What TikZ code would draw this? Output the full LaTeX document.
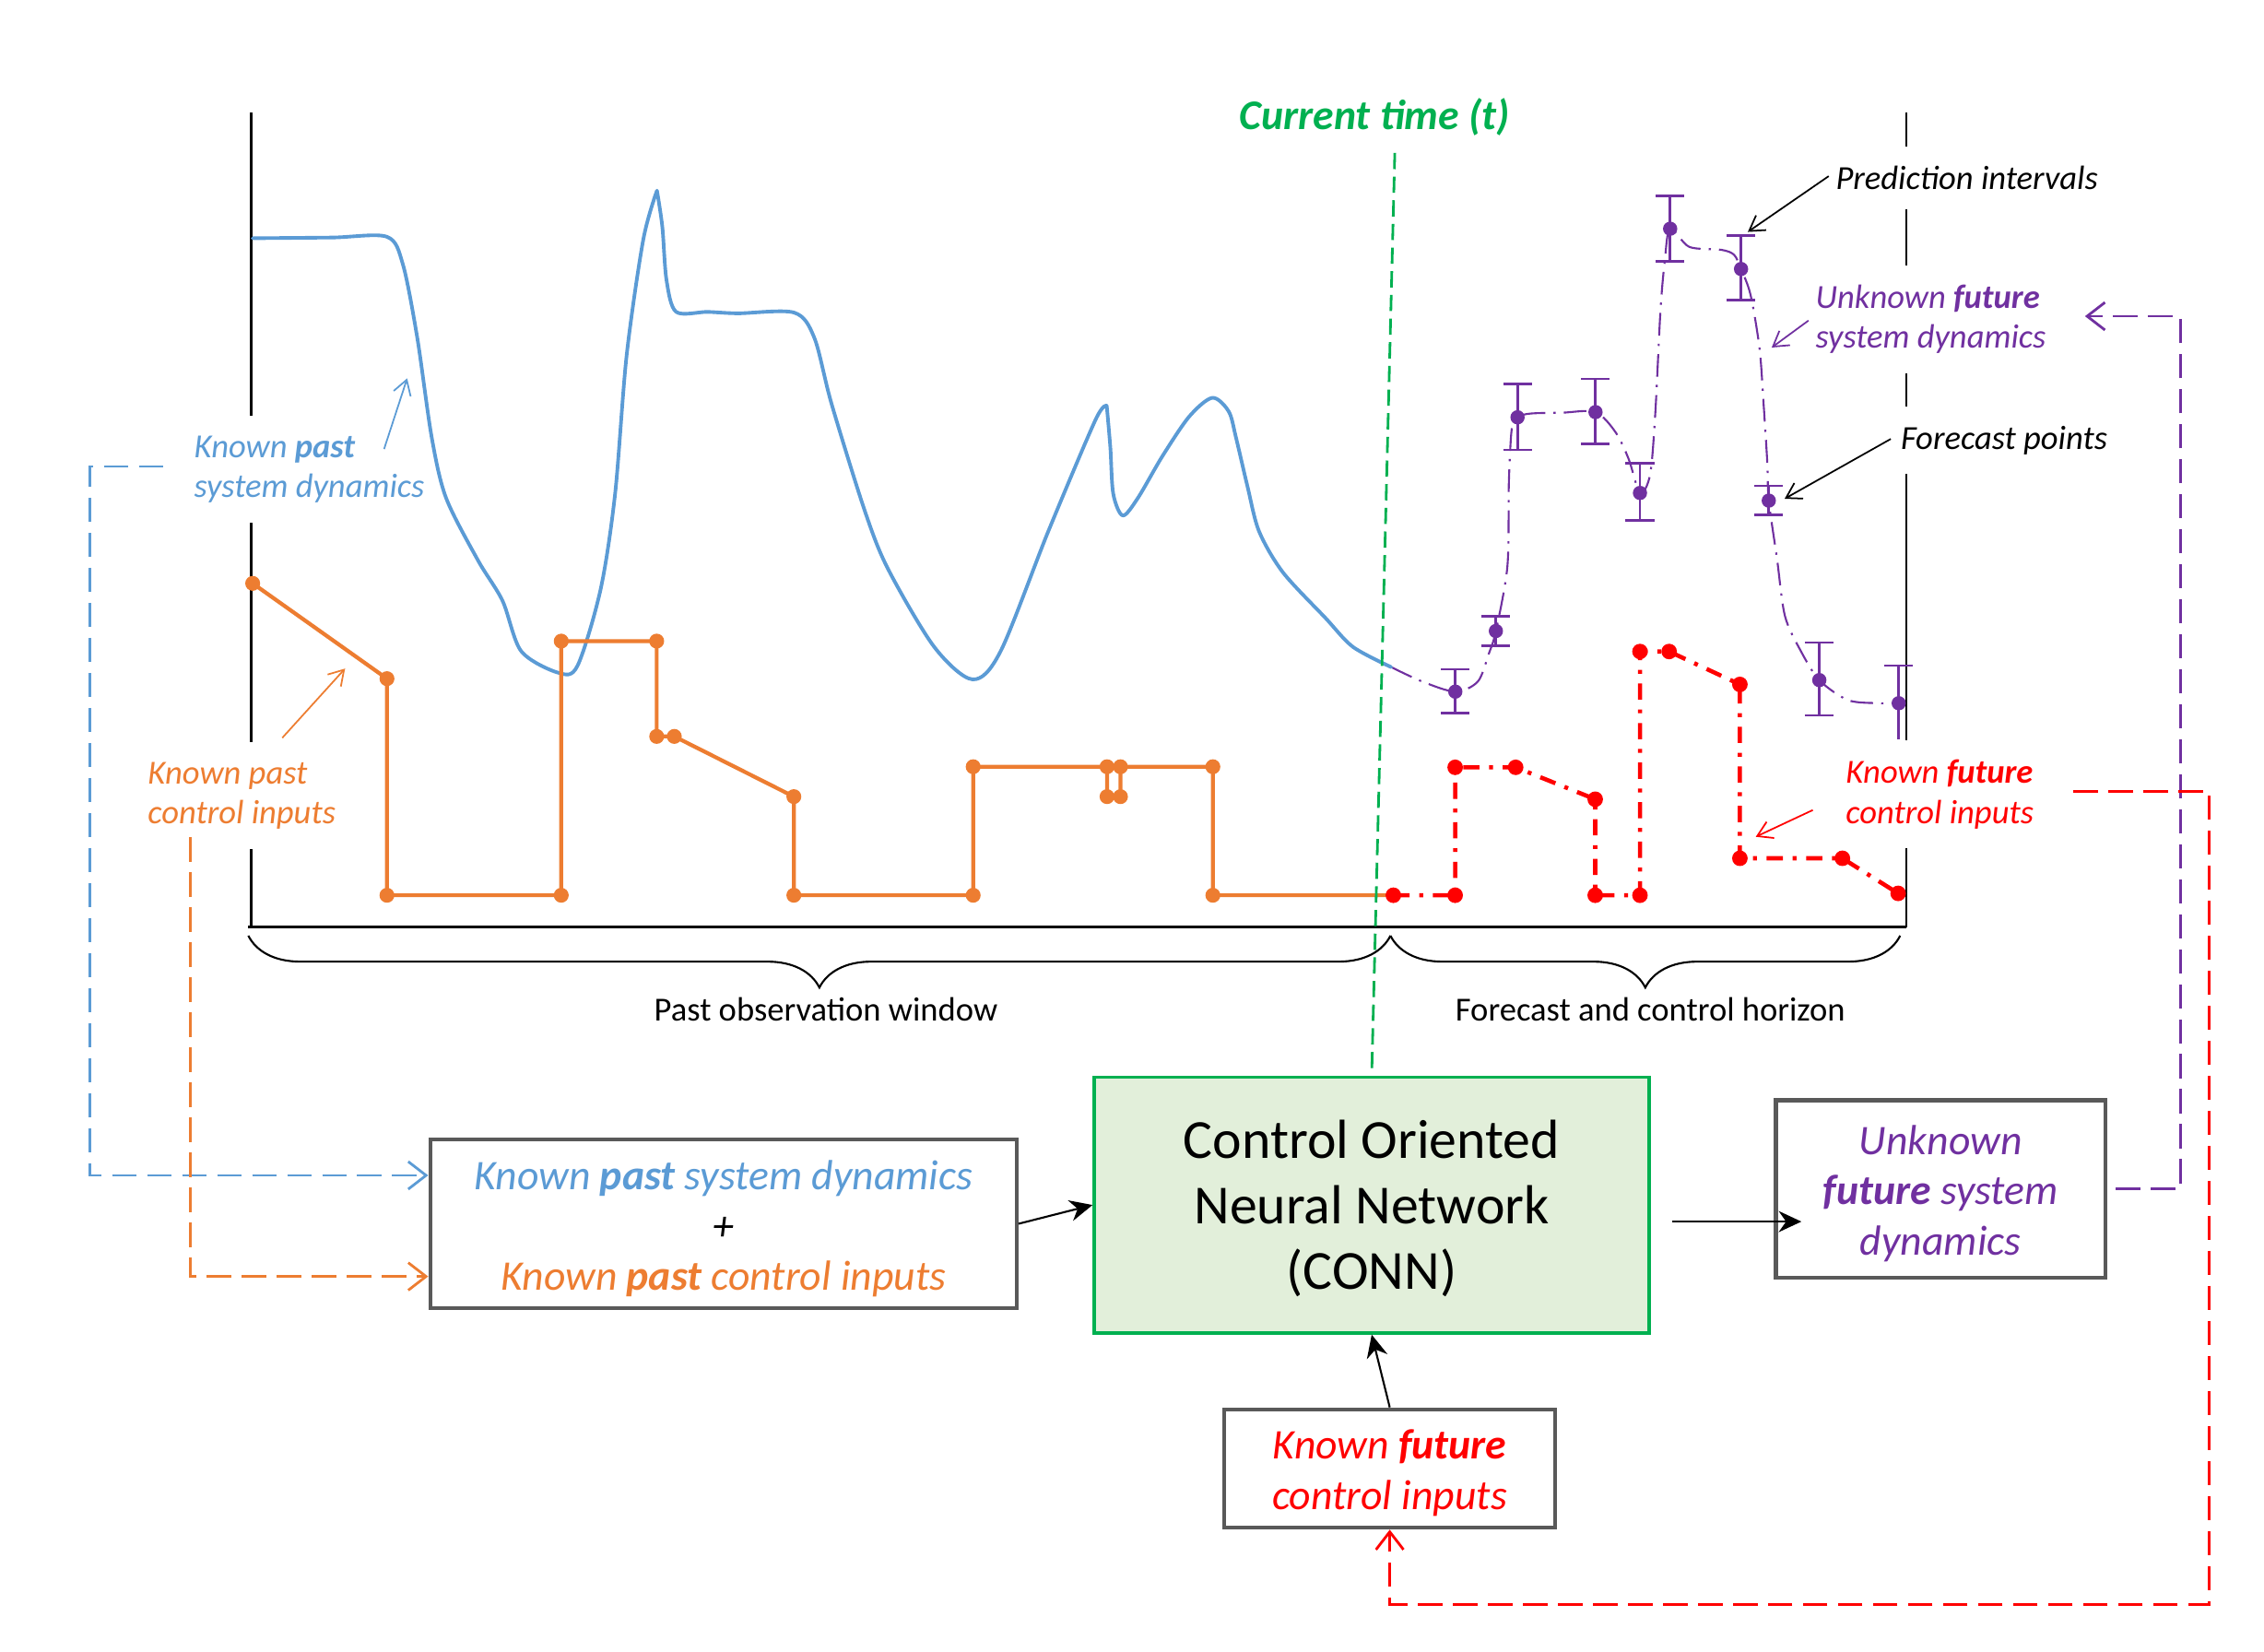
\documentclass[tikz,border=0pt]{standalone}
\usepackage{fontspec}
\setmainfont{Carlito}
\usetikzlibrary{arrows.meta,decorations.pathreplacing,calc}
\definecolor{cblue}{RGB}{91,155,213}
\definecolor{corange}{RGB}{237,125,49}
\definecolor{cpurple}{RGB}{112,48,160}
\definecolor{cred}{RGB}{255,0,0}
\definecolor{cgreen}{RGB}{0,176,80}
\definecolor{cfill}{RGB}{226,239,218}
\definecolor{cgray}{RGB}{89,89,89}
\tikzset{
  axisline/.style={black,line width=0.6pt},
  lbl/.style={font=\fontsize{10.4}{12.4}\selectfont\itshape,align=left,anchor=west,fill=white,inner xsep=2pt,inner ysep=6pt},
  graybox/.style={draw=cgray,line width=1.2pt,fill=white,inner sep=0pt},
  boxtext/.style={align=center,font=\fontsize{13}{15.5}\selectfont\itshape,inner sep=0pt},
  connbox/.style={draw=cgreen,line width=1.1pt,fill=cfill,inner sep=0pt},
  conntext/.style={align=center,font=\fontsize{17}{20.2}\selectfont,inner sep=0pt},
  annarrow/.style={line width=0.5pt,-{Straight Barb[length=4.5pt,width=5.5pt]}},
  flowarrow/.style={black,line width=0.6pt,-{Stealth[length=7pt,width=6.5pt]}},
  connector/.style={line width=0.8pt,dash pattern=on 7.5pt off 3.3pt,-{Straight Barb[length=5.5pt,width=8.5pt]}},
  bluecurve/.style={cblue,line width=1.1pt,line join=round,line cap=round},
  orangeline/.style={corange,line width=1.2pt,line join=round},
  redline/.style={cred,line width=1.3pt,dash pattern=on 5pt off 3pt on 1.2pt off 3pt},
  purplecurve/.style={cpurple,line width=0.6pt,dash pattern=on 7pt off 2.5pt on 0.7pt off 2.5pt},
  errbar/.style={cpurple,line width=0.75pt},
  bracestyle/.style={black,line width=0.6pt,decorate,decoration={brace,mirror,amplitude=16pt}},
  greendash/.style={cgreen,line width=0.8pt,dash pattern=on 5pt off 2.3pt},
}
\begin{document}
\begin{tikzpicture}[x=0.015663cm,y=-0.015663cm]
\useasboundingbox (0,0) rectangle (1568,1144);
\fill[white] (0,0) rectangle (1568,1144);

% axes
\draw[axisline] (174,78) -- (174,642);
\draw[axisline] (1320,78) -- (1320,642);
\draw[black,line width=0.8pt] (172,642) -- (1320,642);

% braces
\draw[bracestyle] (172,648) -- (963,648);
\draw[bracestyle] (963,648) -- (1316,648);
\node[font=\fontsize{10.4}{12}\selectfont] (pastwin) at (572,699) {Past observation window};
\node[font=\fontsize{10.4}{12}\selectfont] (forewin) at (1143,699) {Forecast and control horizon};

% purple forecast curve
\draw[purplecurve] plot[smooth,tension=0.5] coordinates {(963.5,462) (985,472) (1007.9,479) (1023.5,472) (1031,453) (1036,437) (1044,392) (1045,334) (1047,297) (1051,289) (1060,286.4) (1082,285.8) (1105,285.4) (1119,299.5) (1128,318) (1135.8,341.4) (1142.8,328.8) (1146.4,286.3) (1150,214.9) (1153,180.5) (1156.7,158.4) (1170,171) (1192,173) (1201,176.5) (1205.8,186.3) (1212.4,204.3) (1218.6,241.3) (1221.5,281) (1224,320.8) (1225,346.7) (1230.7,386.9) (1236.2,426.6) (1247,450.5) (1260,471) (1280,484.9) (1302,487) (1315,487)};

% error bars and forecast points
\foreach \x/\yc/\yt/\yb in {1007.9/479/463.6/494, 1036/437/426.6/447.3, 1051/289/266/311.6, 1105/285.4/262.4/307.5, 1135.8/341.4/321/360.5, 1156.7/158.4/135.5/181, 1205.8/186.3/163/208, 1225/346.7/336.5/356.5, 1260/471/445/495.5}{
  \draw[errbar] (\x,\yt) -- (\x,\yb) (\x-10,\yt) -- (\x+10,\yt) (\x-10,\yb) -- (\x+10,\yb);
  \fill[cpurple] (\x,\yc) circle[radius=2.2pt];
}
\draw[errbar] (1315,461) -- (1315,512) (1305,461) -- (1325,461);
\fill[cpurple] (1315,487) circle[radius=2.2pt];

% labels (white background covers axis lines)
\node[lbl,text=cblue] (lblB) at (129.5,325) {Known \textbf{past}\\system dynamics};
\node[lbl,text=corange] (lblO) at (97.5,551) {Known past\\control inputs};
\node[lbl] (lblP) at (1266.5,123) {Prediction intervals};
\node[lbl,text=cpurple] (lblU) at (1252.5,221) {Unknown \textbf{future}\\system dynamics};
\node[lbl] (lblF) at (1311.5,305) {Forecast points};
\node[lbl,text=cred] (lblR) at (1273.5,550) {Known \textbf{future}\\control inputs};

% current time
\node[font=\fontsize{13}{15}\selectfont\bfseries\itshape,text=cgreen] (ct) at (952,81) {Current time (t)};

% blue curve (known past system dynamics)
\draw[bluecurve] plot[smooth,tension=0.5] coordinates {(175,165) (230,164.5) (268,164) (279,183) (289,234) (299,303) (309,345) (331,388) (348,416) (361,451) (387,466) (400,461) (416,408) (426,342) (434,246) (445.5,166) (455,132)}
  -- plot[smooth,tension=0.5] coordinates {(455,132) (458.7,157) (461.6,194) (468.3,216) (490,216) (511,217) (550,216.5) (564,234) (576,280) (599,354) (615,394) (647,448) (673.5,470.5) (693,451) (726,368) (758.6,291) (766.5,281)}
  -- plot[smooth,tension=0.5] coordinates {(766.5,281) (769,310) (771,342) (777.6,357) (788,345) (805,316) (823.6,288.5) (839.6,275.5) (851,285) (856,303) (864,337) (872,368) (888.6,396.5) (918,428) (937,448) (963.5,462)};

% orange past control inputs
\draw[orangeline] (175,404) -- (268,470) -- (268,620) -- (388.7,620) -- (388.7,444) -- (454.8,444) -- (454.8,510) -- (467,510) -- (549.8,551.7) -- (549.8,620) -- (674,620) -- (674,531) -- (766.7,531) -- (766.7,551.7) -- (776,551.7) -- (776,531) -- (840,531) -- (840,620) -- (965,620);
\foreach \x/\y in {175/404, 268/470, 268/620, 388.7/620, 388.7/444, 454.8/444, 454.8/510, 467/510, 549.8/551.7, 549.8/620, 674/620, 674/531, 766.7/531, 766.7/551.7, 776/551.7, 776/531, 840/531, 840/620}
  \fill[corange] (\x,\y) circle[radius=2.3pt];

% red future control inputs
\draw[redline] (965,620) -- (1007.8,620) -- (1007.8,531.4) -- (1049.7,531.4) -- (1104.8,553.5) -- (1104.8,620) -- (1135.8,620) -- (1135.8,451.2) -- (1156,451.2) -- (1205,474) -- (1205,594.4) -- (1276,594.4) -- (1314.6,618.7);
\foreach \x/\y in {965/620, 1007.8/620, 1007.8/531.4, 1049.7/531.4, 1104.8/553.5, 1104.8/620, 1135.8/620, 1135.8/451.2, 1156/451.2, 1205/474, 1205/594.4, 1276/594.4, 1314.6/618.7}
  \fill[cred] (\x,\y) circle[radius=2.4pt];

% boxes
\node[graybox,minimum width=6.359cm,minimum height=1.833cm] (inbox) at (501,847.5) {};
\node[boxtext] (inboxtext) at ($(inbox.center)+(0,3.5)$)
  {\textcolor{cblue}{Known \textbf{past} system dynamics}\\+\\\textcolor{corange}{Known \textbf{past} control inputs}};
\node[connbox,minimum width=6.015cm,minimum height=2.772cm] (conn) at (950,834.5) {};
\node[conntext] (conntext) at ($(conn.center)+(0,2.5)$) {Control Oriented\\Neural Network\\(CONN)};
\node[graybox,minimum width=3.571cm,minimum height=1.927cm] (ubox) at (1344,823.5) {};
\node[boxtext,text=cpurple] (uboxtext) at ($(ubox.center)+(0,3)$) {Unknown\\\textbf{future} system\\dynamics};
\node[graybox,minimum width=3.587cm,minimum height=1.284cm] (kbox) at (962.5,1017) {};
\node[boxtext,text=cred] (kboxtext) at ($(kbox.center)+(0,3)$) {Known \textbf{future}\\control inputs};

% current time line
\draw[greendash] ($(ct.south)+(14,4)$) -- (conn.north);

% annotation arrows
\coordinate (tipB) at (282,262);
\coordinate (tipO) at (239,463);
\coordinate (tipP) at (1210.5,160.6);
\coordinate (tipU) at (1227,240.7);
\coordinate (tipF) at (1236,345.4);
\coordinate (tipR) at (1216,579.5);
\draw[annarrow,cblue] ($(lblB.west)+(136.5,-14)$) -- (tipB);
\draw[annarrow,corange] ($(lblO.west)+(98,-40)$) -- (tipO);
\draw[annarrow,black] ($(lblP.west)+(0,-1)$) -- (tipP);
\draw[annarrow,cpurple] ($(lblU.west)+(0,1)$) -- (tipU);
\draw[annarrow,black] ($(lblF.west)+(-2,-1)$) -- (tipF);
\draw[annarrow,cred] ($(lblR.west)+(-18,11)$) -- (tipR);

% flow arrows
\draw[flowarrow] (inbox.east) -- (conn.west);
\draw[flowarrow] ($(conn.east)+(15,11.5)$) -- ($(ubox.west)+(19,22.5)$);
\draw[flowarrow] (kbox.north) -- (conn.south);

% dashed connectors
\coordinate (bStart) at (113,323);
\coordinate (oStart) at (132,580);
\coordinate (pEnd) at (1444,219);
\coordinate (rStart) at (1436,548);
\draw[connector,cblue] (bStart) -- (62,323) |- ($(inbox.west)+(0,-33.5)$);
\draw[connector,corange] (oStart) |- ($(inbox.west)+(0,36.5)$);
\draw[connector,cpurple] ($(ubox.east)+(6,0)$) -- (1510,823.5) -- (1510,219) -- (pEnd);
\draw[connector,cred] (rStart) -- (1530,548) -- (1530,1111) -- (962.5,1111) -- (kbox.south);
\end{tikzpicture}
\end{document}
